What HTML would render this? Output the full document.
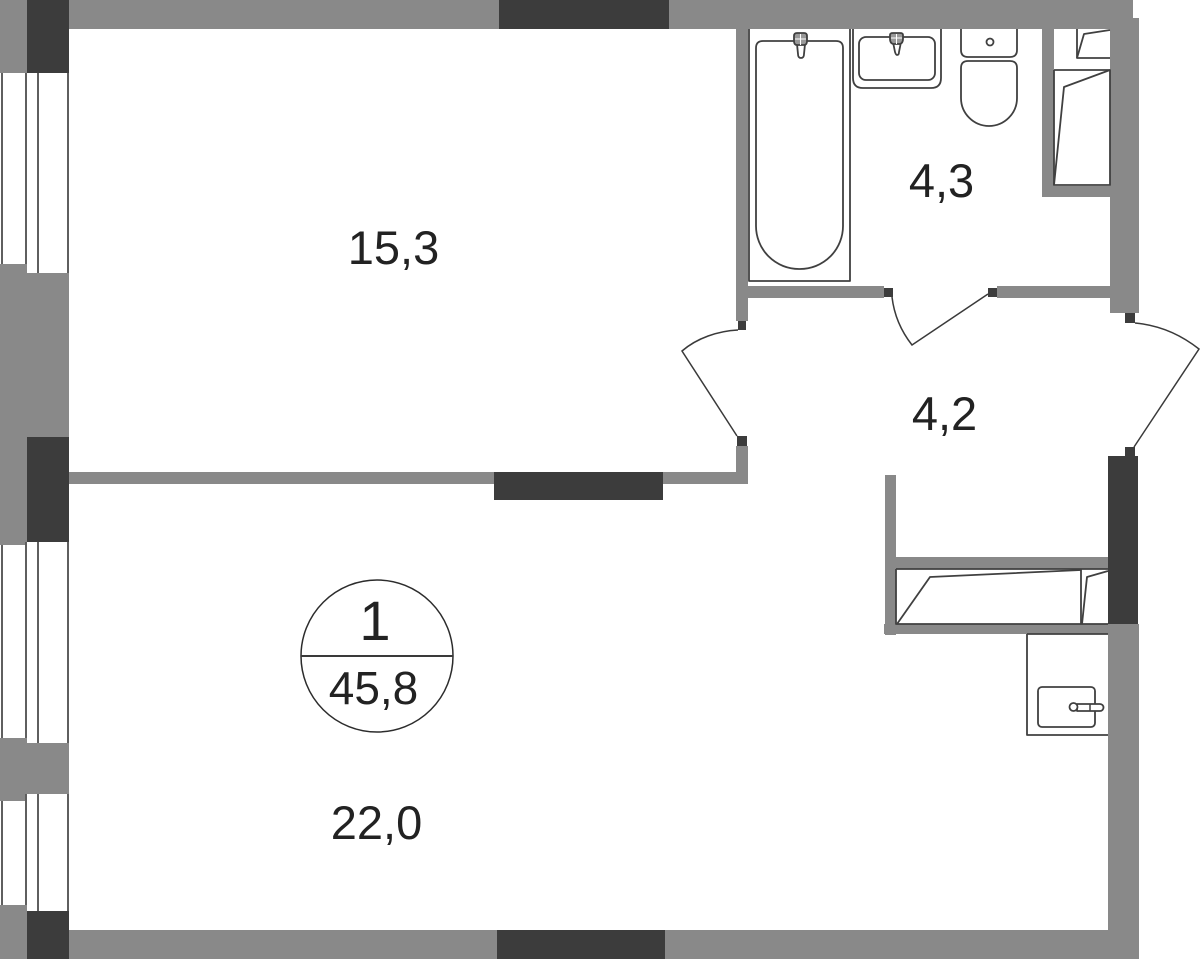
<!DOCTYPE html>
<html>
<head>
<meta charset="utf-8">
<style>
html,body{margin:0;padding:0;background:#fff;width:1200px;height:959px;overflow:hidden}
svg{display:block}
text{font-family:"Liberation Sans",sans-serif;fill:#222}
</style>
</head>
<body>
<svg width="1200" height="959" viewBox="0 0 1200 959" xmlns="http://www.w3.org/2000/svg">
<rect width="1200" height="959" fill="#fff"/>
<!-- gray walls -->
<g fill="#898989">
<rect x="69" y="0" width="1064" height="29"/>
<rect x="1110" y="18" width="29" height="295"/>
<rect x="0" y="0" width="27" height="73"/>
<rect x="0" y="264" width="27" height="281"/>
<rect x="27" y="273" width="42" height="170"/>
<rect x="0" y="738" width="27" height="63"/>
<rect x="27" y="743" width="42" height="51"/>
<rect x="0" y="905" width="27" height="54"/>
<rect x="69" y="930" width="1070" height="29"/>
<rect x="1108" y="624" width="31" height="335"/>
<rect x="69" y="472" width="679" height="12"/>
<rect x="736" y="446" width="12" height="38"/>
<rect x="736" y="29" width="12" height="292"/>
<rect x="748" y="286" width="136" height="12"/>
<rect x="997" y="286" width="113" height="12"/>
<rect x="1042" y="29" width="12" height="168"/>
<rect x="1042" y="186" width="68" height="11"/>
<rect x="885" y="475" width="11" height="160"/>
<rect x="896" y="557" width="212" height="12"/>
<rect x="884" y="624" width="224" height="10"/>
</g>
<!-- dark walls -->
<g fill="#3c3c3c">
<rect x="499" y="0" width="170" height="29"/>
<rect x="27" y="0" width="42" height="73"/>
<rect x="27" y="437" width="42" height="105"/>
<rect x="27" y="911" width="42" height="48"/>
<rect x="497" y="930" width="168" height="29"/>
<rect x="494" y="472" width="169" height="28"/>
<rect x="1108" y="456" width="30" height="168"/>
<rect x="1125" y="447" width="10" height="9"/>
<rect x="1125" y="313" width="10" height="10"/>
<rect x="738" y="321" width="8" height="9"/>
<rect x="737" y="436" width="10" height="10"/>
<rect x="884" y="288" width="9" height="9"/>
<rect x="988" y="288" width="9" height="9"/>
</g>
<!-- windows -->
<g fill="none" stroke="#5f5f5f" stroke-width="2">
<path d="M2 73V264M26 73V264M38 73V273M68 73V273"/>
<path d="M2 545V738M26 542V738M38 542V743M68 542V743"/>
<path d="M2 801V905M26 794V905M38 794V911M68 794V911"/>
</g>
<!-- fixtures -->
<g fill="none" stroke="#404040" stroke-width="1.8" stroke-linejoin="round">
<!-- bath -->
<path d="M749 29V281H850V29"/>
<path d="M763 41H836Q843 41 843 48V226A43 43 0 0 1 800 269H799A43 43 0 0 1 756 226V48Q756 41 763 41Z"/>
<path d="M797 44L798 54Q798 58 801 58Q804 58 804 54L805 44" fill="#fff"/>
<path d="M794 41V36Q794 33 797 33H804Q807 33 807 36V41Q807 45 804 45H797Q794 45 794 41Z" fill="#999"/>
<path d="M795 39H806M800.500 34V45" stroke="#fff" stroke-width="1"/>
<!-- sink -->
<path d="M853 29V78Q853 88 863 88H931Q941 88 941 78V29"/>
<rect x="859" y="37" width="76" height="43" rx="7"/>
<path d="M893 42L895 52Q896 55 897 55Q899 55 899 52L901 42" fill="#fff"/>
<path d="M890 37V35Q890 33 893 33H900Q903 33 903 35V39Q903 43 900 44H893Q890 43 890 39Z" fill="#999"/>
<path d="M891 38H902M896.500 34V44" stroke="#fff" stroke-width="1"/>
<!-- toilet -->
<path d="M961 29V50Q961 57 968 57H1010Q1017 57 1017 50V29"/>
<path d="M968 61H1010Q1017 61 1017 68V98A28 28 0 0 1 961 98V68Q961 61 968 61Z"/>
<circle cx="990" cy="42" r="3.500"/>
<!-- shaft closet -->
<path d="M1077 29V58H1110M1054 70H1110V185H1054V70"/>
<path d="M1054 185L1064 87L1110 70"/>
<path d="M1077 58L1084 34L1110 30"/>
<!-- lower closet -->
<path d="M896 569H1108M896 569V624H1108"/>
<path d="M1081 569V624"/>
<path d="M897 624L930 577L1081 570"/>
<path d="M1082 624L1087 577L1108 571"/>
<!-- wash basin -->
<path d="M1027 634V735H1108M1027 634H1108"/>
<rect x="1038" y="687" width="57" height="40" rx="4"/>
<path d="M1077 704H1100A3.500 3.500 0 0 1 1100 711H1077Z" fill="#fff"/>
<path d="M1090 704V711" stroke-width="1.500"/>
<circle cx="1073.500" cy="707" r="4" fill="#fff"/>
</g>
<!-- doors -->
<g fill="none" stroke="#3a3a3a" stroke-width="1.500">
<path d="M738 330C718 331 697 338 682 351L737 436"/>
<path d="M892 297C894 314 901 331 912 345L988 294"/>
<path d="M1135 323C1158 325 1180 334 1199 349L1134 447"/>
</g>
<!-- circle badge -->
<circle cx="377" cy="656" r="76" fill="#fff" stroke="#2c2c2c" stroke-width="1.500"/>
<line x1="301" y1="656" x2="453" y2="656" stroke="#3a3a3a" stroke-width="2"/>
<text x="375" y="640" font-size="56" text-anchor="middle">1</text>
<text x="373.500" y="704" font-size="46" text-anchor="middle">45,8</text>
<!-- room labels -->
<text x="393.500" y="264" font-size="47" text-anchor="middle">15,3</text>
<text x="941.500" y="197" font-size="47" text-anchor="middle">4,3</text>
<text x="944.500" y="430" font-size="47" text-anchor="middle">4,2</text>
<text x="376.500" y="839" font-size="47" text-anchor="middle">22,0</text>
</svg>
</body>
</html>
